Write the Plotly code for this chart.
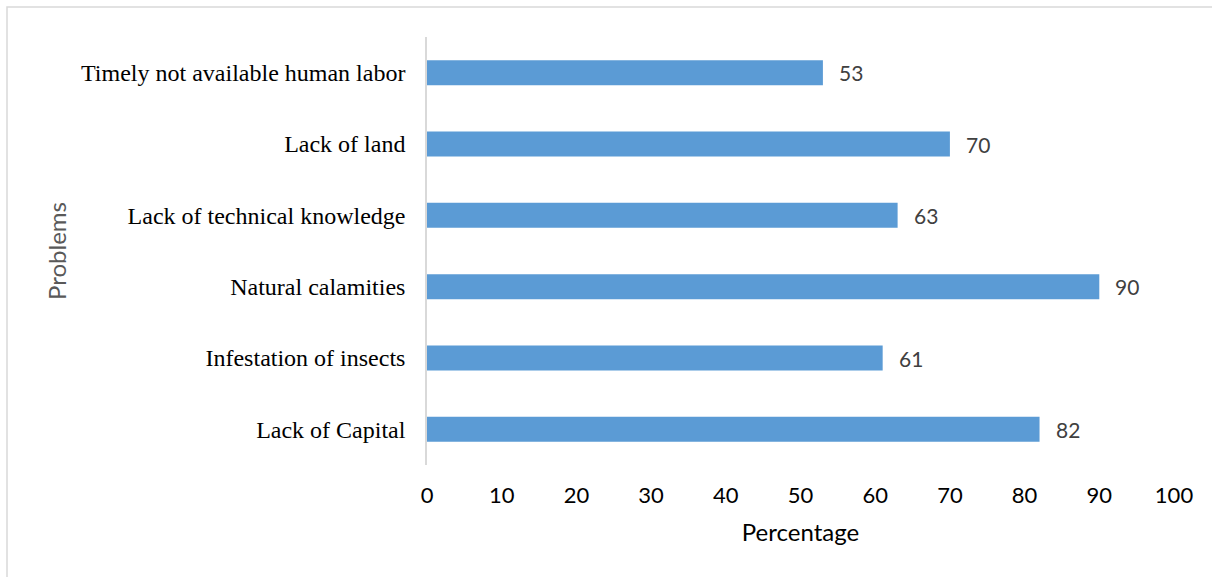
import plotly.graph_objects as go

problems = [
    "Lack of Capital",
    "Infestation of insects",
    "Natural calamities",
    "Lack of technical knowledge",
    "Lack of land",
    "Timely not available human labor",
]
percentages = [82, 61, 90, 63, 70, 53]
x_ticks = [0, 10, 20, 30, 40, 50, 60, 70, 80, 90, 100]

W, H = 1212, 577
L, R, T, B = 427, 38, 37, 112

fig = go.Figure(
    go.Bar(
        x=percentages,
        y=problems,
        orientation="h",
        marker=dict(color="#5b9bd5", line=dict(width=0)),
        width=0.35,
        hoverinfo="x+y",
    )
)

# value labels to the right of each bar
for p, v in zip(problems, percentages):
    fig.add_annotation(
        x=v, y=p, text=str(v), showarrow=False, xanchor="left", xshift=14,
        font=dict(family="Lato, Open Sans, sans-serif", size=21, color="#404040"),
    )

# thin outer frame
pw = W - L - R
ph = H - T - B
fig.add_shape(
    type="rect", xref="paper", yref="paper",
    x0=(7 - L) / pw, x1=(W + 5 - L) / pw,
    y0=-(H + 5 - T - ph) / ph, y1=(H - 7 - B) / ph,
    line=dict(color="#d9d9d9", width=1.5), fillcolor="rgba(0,0,0,0)", layer="below",
)

fig.update_layout(
    width=W, height=H,
    margin=dict(l=L, r=R, t=T, b=B),
    paper_bgcolor="white", plot_bgcolor="white",
    showlegend=False,
    xaxis=dict(
        range=[0, 100], tickvals=x_ticks, showgrid=False, zeroline=False,
        showline=False, ticks="outside", ticklen=11, tickcolor="white",
        tickfont=dict(family="Lato, Open Sans, sans-serif", size=22, color="#000000"),
        title=dict(text="Percentage", standoff=16,
                   font=dict(family="Lato, Open Sans, sans-serif", size=24, color="#000000")),
        fixedrange=True,
    ),
    yaxis=dict(
        categoryorder="array", categoryarray=problems,
        showgrid=False, zeroline=False,
        showline=True, linecolor="#d9d9d9", linewidth=1.5,
        ticks="outside", ticklen=15, tickcolor="white",
        tickfont=dict(family="Liberation Serif, Times New Roman, serif", size=24, color="#000000"),
        title=dict(text="Problems", standoff=8,
                   font=dict(family="Lato, Open Sans, sans-serif", size=24, color="#595959")),
        fixedrange=True,
    ),
)

fig.write_html("out.html")
